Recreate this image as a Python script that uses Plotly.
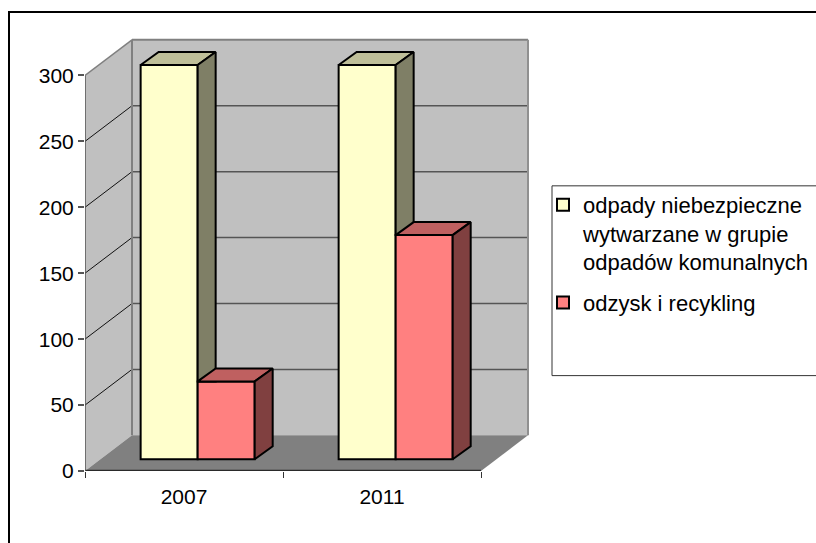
import plotly.graph_objects as go

years = ["2007", "2011"]
hazardous = [299, 299]
recovered = [59, 170]
series_names = ["odpady niebezpieczne<br>wytwarzane w grupie<br>odpadów komunalnych", "odzysk i recykling"]
y_ticks = [0, 50, 100, 150, 200, 250, 300]

W, H = 816, 543
PX_X, PX_Y = 198.0, 1.32
L, R, T, B = 85, 530, 38, 471.5
X_MAX = (R - L) / PX_X
Y_MAX = (B - T) / PX_Y
WALL_DX, WALL_DY = 47 / PX_X, 35.7 / PX_Y
BASE_Y = 11.8 / PX_Y
BAR_DX, BAR_DY = 18 / PX_X, 13 / PX_Y
GROUP_LEFT, BAR_W = 0.281, 0.288
YMAXV = y_ticks[-1]
FONT = "Liberation Sans, Arial, sans-serif"

def wall_shape(xs, ys, fill):
    path = "M" + " L".join(f"{a},{b}" for a, b in zip(xs, ys)) + " Z"
    return dict(type="path", path=path, xref="x", yref="y", fillcolor=fill, line=dict(width=0), layer="below")

def seg(x0, y0, x1, y1, color, width):
    return dict(type="line", xref="x", yref="y", x0=x0, y0=y0, x1=x1, y1=y1,
                line=dict(color=color, width=width), layer="below")

shapes = []
n = len(years)
shapes.append(wall_shape([0, WALL_DX, WALL_DX, 0], [0, WALL_DY, YMAXV + WALL_DY, YMAXV], "#C0C0C0"))
shapes.append(wall_shape([WALL_DX, n + WALL_DX, n + WALL_DX, WALL_DX],
                         [WALL_DY, WALL_DY, YMAXV + WALL_DY, YMAXV + WALL_DY], "#C0C0C0"))
shapes.append(wall_shape([0, n, n + WALL_DX, WALL_DX], [0, 0, WALL_DY, WALL_DY], "#808080"))
for t in y_ticks[1:-1]:
    shapes.append(seg(0, t, WALL_DX, t + WALL_DY, "#111111", 1))
    shapes.append(seg(WALL_DX, t + WALL_DY, n + WALL_DX, t + WALL_DY, "#555555", 1.5))
shapes.append(seg(0, YMAXV, WALL_DX, YMAXV + WALL_DY, "#808080", 1.5))
shapes.append(seg(WALL_DX, YMAXV + WALL_DY, n + WALL_DX, YMAXV + WALL_DY, "#808080", 2))
shapes.append(seg(WALL_DX, WALL_DY, WALL_DX, YMAXV + WALL_DY, "#808080", 2))
shapes.append(seg(n + WALL_DX, WALL_DY, n + WALL_DX, YMAXV + WALL_DY, "#909090", 2))
shapes.append(seg(0, 0, n, 0, "#2a2a2a", 2.5))
shapes.append(seg(0, 0, 0, YMAXV, "#555555", 1.5))

# outer chart frame and legend box, in plot-fraction coordinates
def fx(px): return (px - L) / (R - L)
def fy(py): return (B - py) / (B - T)
shapes.append(dict(type="rect", xref="paper", yref="paper", x0=fx(9), y0=fy(570), x1=fx(840), y1=fy(12),
                   line=dict(color="#000000", width=2), fillcolor="rgba(0,0,0,0)", layer="below"))
shapes.append(dict(type="rect", xref="paper", yref="paper", x0=fx(552), y0=fy(376), x1=fx(840), y1=fy(186),
                   line=dict(color="#333333", width=1), fillcolor="#FFFFFF", layer="above"))

left_a = [i + GROUP_LEFT for i in range(n)]
left_b = [i + GROUP_LEFT + BAR_W for i in range(n)]

fig = go.Figure()
fig.add_bar(x=left_a, y=hazardous, base=BASE_Y, width=BAR_W, offset=0, name=series_names[0], legendgroup="a",
            marker=dict(color="#FFFFCC", line=dict(color="#000000", width=2)), hoverinfo="skip")
fig.add_bar(x=left_b, y=recovered, base=BASE_Y, width=BAR_W, offset=0, name=series_names[1], legendgroup="b",
            marker=dict(color="#FF8080", line=dict(color="#000000", width=2)), hoverinfo="skip")

def poly(xs, ys, fill):
    fig.add_scatter(x=xs + xs[:1], y=ys + ys[:1], mode="lines", fill="toself", fillcolor=fill,
                    line=dict(color="#000000", width=2), showlegend=False, hoverinfo="skip")

for i in range(n):
    xa, xb = left_a[i], left_b[i]
    xe = xb + BAR_W
    top_a = hazardous[i] + BASE_Y
    top_b = recovered[i] + BASE_Y
    poly([xa, xb, xb + BAR_DX, xa + BAR_DX], [top_a, top_a, top_a + BAR_DY, top_a + BAR_DY], "#BFBF99")
    poly([xb, xb + BAR_DX, xb + BAR_DX, xb], [top_a, top_a + BAR_DY, top_b, top_b], "#7F7F66")
    poly([xb, xe, xe + BAR_DX, xb + BAR_DX], [top_b, top_b, top_b + BAR_DY, top_b + BAR_DY], "#BF6060")
    poly([xe, xe + BAR_DX, xe + BAR_DX, xe], [BASE_Y, BASE_Y + BAR_DY, top_b + BAR_DY, top_b], "#804040")

fig.update_layout(
    width=W, height=H, barmode="overlay", paper_bgcolor="#FFFFFF", plot_bgcolor="rgba(0,0,0,0)",
    margin=dict(l=L, r=W - R, t=T, b=H - B, pad=0, autoexpand=False),
    font=dict(family=FONT, size=21, color="#000000"),
    shapes=shapes,
    showlegend=True,
    legend=dict(x=fx(543), xanchor="left", y=fy(184), yanchor="top", bgcolor="rgba(0,0,0,0)", valign="top",
                borderwidth=0, tracegroupgap=9, traceorder="grouped", font=dict(family=FONT, size=22)),
    xaxis=dict(range=[0, X_MAX], showgrid=False, zeroline=False, showline=False,
               tickmode="array", tickvals=[i + 0.5 for i in range(n)], ticktext=years, ticks="",
               ticklabelstandoff=11,
               minor=dict(tickmode="array", tickvals=list(range(n + 1)), ticks="outside", ticklen=6,
                          tickwidth=1, tickcolor="#333333", showgrid=False)),
    yaxis=dict(range=[0, Y_MAX], showgrid=False, zeroline=False, showline=False,
               tickmode="array", tickvals=y_ticks, ticks="outside", ticklen=6, tickwidth=1.5,
               tickcolor="#555555"),
)
fig.write_html("out.html", config={"displayModeBar": False},
               post_script="document.body.style.margin='0';document.body.style.overflow='hidden';")
